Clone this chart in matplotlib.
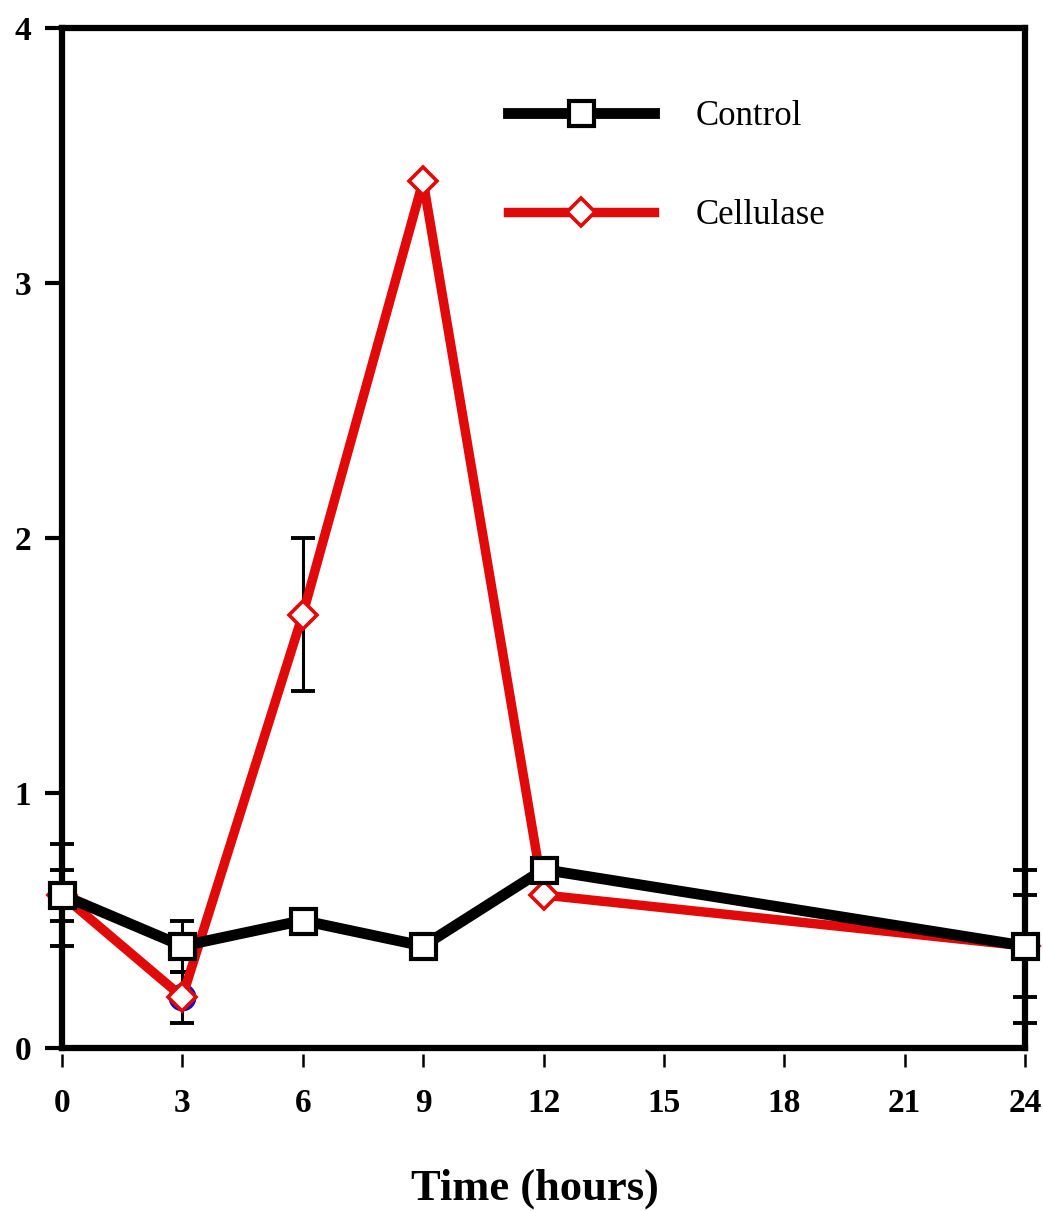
import matplotlib
matplotlib.use("Agg")
import matplotlib.pyplot as plt

plt.rcParams['font.family'] = ['Liberation Serif', 'DejaVu Serif']

# time points (hours)
hours = [0, 3, 6, 9, 12, 24]
control = [0.6, 0.4, 0.5, 0.4, 0.7, 0.4]
control_err = [0.1, 0.1, 0.0, 0.0, 0.0, 0.3]
cellulase = [0.6, 0.2, 1.7, 3.4, 0.6, 0.4]
cellulase_err = [0.2, 0.1, 0.3, 0.0, 0.0, 0.2]
# stray blue point hidden under the cellulase marker at 3 h
blue_x = [3]
blue_y = [0.2]

xticks = [0, 3, 6, 9, 12, 15, 18, 21, 24]
yticks = [0, 1, 2, 3, 4]

red = '#e00a0a'

fig = plt.figure(figsize=(10.43, 12.11), dpi=100)
ax = fig.add_axes([62/1043, 1 - 1048/1211, (1025-62)/1043, (1048-28)/1211])

# bottom ticks sit slightly below the axis line, so offset the spine
ax.spines['bottom'].set_position(('outward', 4))
ax.spines['bottom'].set_visible(False)
ax.axhline(0, color='black', lw=4.5, clip_on=False, zorder=0.5)
for s in ['left', 'top', 'right']:
    ax.spines[s].set_linewidth(4.5)

# error bars (black, under the lines)
for y, e in [(control, control_err), (cellulase, cellulase_err)]:
    xs = [h for h, v in zip(hours, e) if v > 0]
    ys = [m for m, v in zip(y, e) if v > 0]
    es = [v for v in e if v > 0]
    ax.errorbar(xs, ys, yerr=es, fmt='none', ecolor='black', elinewidth=2.2,
                capsize=8.7, capthick=2.8, zorder=1, clip_on=False)

ax.plot(blue_x, blue_y, 'o', ms=19, color='#1010c0', zorder=1.5, clip_on=False)

ax.plot(hours, cellulase, color=red, lw=6.8, marker='D', ms=14,
        mfc='white', mec=red, mew=2.6, label='Cellulase', zorder=2, clip_on=False)
ax.plot(hours, control, color='black', lw=7.8, marker='s', ms=18,
        mfc='white', mec='black', mew=3.0, label='Control', zorder=3, clip_on=False)

ax.set_xlim(0, 24)
ax.set_ylim(0, 4)
ax.set_xticks(xticks)
ax.set_yticks(yticks)
ax.set_xticklabels([str(t) for t in xticks], fontweight='bold')
ax.set_yticklabels([str(t) for t in yticks], fontweight='bold')

ax.tick_params(axis='y', direction='out', length=12, width=3, pad=10, right=False,
               labelsize=24)
ax.tick_params(axis='x', direction='out', length=9, width=1.8, pad=16, top=False,
               labelsize=24)

ax.set_xlabel('Time (hours)', fontsize=32, fontweight='bold', labelpad=36)
ax.xaxis.set_label_coords(0.491, -0.118)
ax.xaxis.label.set_va('top')

handles, labels = ax.get_legend_handles_labels()
ax.legend(handles[::-1], labels[::-1], loc='upper left', bbox_to_anchor=(0.463, 0.929),
          frameon=False, fontsize=25, handlelength=4.2, handletextpad=1.2,
          labelspacing=1.9, borderpad=0, borderaxespad=0)

fig.savefig('out.png', dpi=100)
